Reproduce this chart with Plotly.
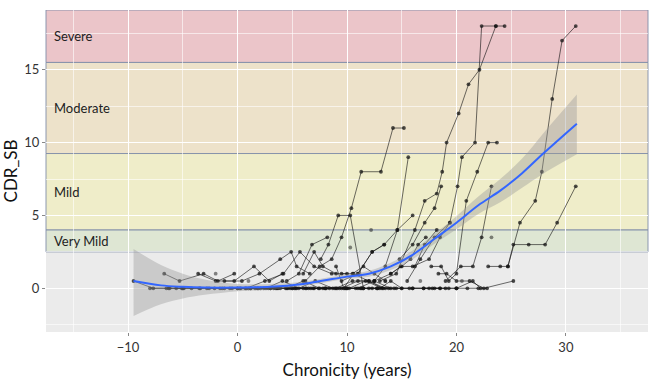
import plotly.graph_objects as go

# ---------------- data ----------------
traj_years = [
    [-9.5, -7.7, -6.2, -5.1],
    [-6.7, -5.3, -3.1, -1.8, -0.3],
    [-3.6, -2.0, -0.3, 1.5, 2.9, 4.1],
    [-6.3, -4.9, -3.5, -2.1, -0.7, 0.7, 2.1, 3.5],
    [-5.0, -3.4, -1.6, 0.0, 1.6, 3.0, 4.6, 6.0],
    [-1.2, 0.4, 2.0, 3.9, 4.9, 5.4, 6.6],
    [0.8, 2.5, 4.2, 5.7, 7.0, 8.6, 10.0],
    [1.8, 3.3, 4.8, 6.3, 7.8, 9.3, 10.8, 12.3],
    [-0.5, 1.0, 2.6, 4.1, 5.6, 7.1, 8.7, 10.2, 11.7, 13.2],
    [4.5, 5.6, 6.8, 8.2],
    [6.2, 7.5, 8.6, 9.5, 10.4, 11.3, 13.1, 14.2, 15.2],
    [7.6, 8.3, 9.2, 10.3, 11.5],
    [9.0, 9.7, 10.6, 12.0, 13.3],
    [12.5, 13.5, 14.6, 15.6],
    [3.0, 4.5, 6.0, 7.5, 9.0, 10.5, 12.0, 13.5, 15.0],
    [5.0, 6.5, 8.0, 9.5, 11.0, 12.5, 14.0],
    [9.5, 11.0, 12.3, 13.4, 14.6, 16.0],
    [11.0, 12.5, 14.0, 14.9, 16.2, 17.1, 18.2],
    [13.0, 14.5, 16.2, 17.1, 18.2, 18.7, 19.1, 20.2, 21.1, 22.1, 23.6, 24.4],
    [15.5, 16.7, 18.0, 19.4, 20.1, 20.5, 21.7, 22.3, 23.6],
    [17.7, 18.6, 19.3, 20.0, 20.9, 21.9, 22.9, 23.7],
    [19.0, 20.4, 21.5, 22.3, 23.2],
    [18.35, 19.1, 20.0, 21.2, 22.5, 25.2],
    [17.0, 18.5, 20.0, 21.5, 22.2, 22.8],
    [22.9, 24.0, 24.7, 25.8, 27.2, 27.8, 28.75, 29.65, 30.9],
    [24.7, 25.2, 26.6, 28.1, 29.2, 30.9],
    [16.0, 17.5, 18.5, 19.4],
    [14.0, 15.0, 15.8, 16.5, 17.2],
    [12.0, 13.0, 14.0, 15.0, 16.0, 17.5, 18.5],
    [9.5, 10.5, 11.5, 12.5, 13.5],
    [11.0, 12.3, 13.4],
    [14.8, 16.0, 17.1, 18.0, 18.6],
    [20.0, 21.0, 22.0],
    [6.0, 7.0, 7.8, 9.0],
    [-8.0, -6.5, -5.0],
    [-5.6, -4.2, -2.8, -1.2, 0.3, 1.2, 2.8, 4.4, 5.2],
    [-2.6, -1.4, 0.0, 1.2, 2.4, 3.7, 5.0, 6.2, 7.4, 8.9],
    [3.9, 5.3, 6.7, 8.0, 9.1, 10.0, 11.5, 12.8, 13.8],
    [7.0, 8.4, 9.8, 11.3, 12.7, 14.3, 15.7, 17.0, 18.0, 19.0],
    [10.0, 11.4, 12.8, 14.5, 16.0, 17.8, 19.3, 20.0],
    [0.2, 1.9, 3.6, 5.4, 6.9, 8.1, 9.9, 11.2],
]
traj_cdr = [
    [0.5, 0, 0, 0],
    [1.0, 0.5, 1.0, 0.5, 1.0],
    [1.0, 0.5, 0.5, 1.5, 0.5, 1.0],
    [0, 0, 0, 0, 0, 0, 0, 0],
    [0, 0, 0, 0, 0, 0, 0, 0],
    [0.5, 0.5, 1.0, 2.0, 2.5, 1.5, 1.0],
    [0, 0.5, 1.0, 2.5, 1.5, 1.0, 1.0],
    [0, 0, 0, 0, 0, 0, 0, 0],
    [0, 0, 0, 0.5, 0, 0.5, 0, 0, 0.5, 0],
    [0.5, 1.0, 3.0, 3.5],
    [0.5, 1.5, 2.0, 3.5, 5.5, 8.0, 8.0, 11.0, 11.0],
    [2.0, 3.0, 5.0, 5.0, 0.0],
    [1.5, 0.0, 1.0, 0.5, 0.0],
    [0.5, 1.5, 4.0, 9.0],
    [0, 0, 0.5, 0, 0, 0.5, 0.5, 0, 0],
    [0, 0, 0, 0, 0.5, 0.5, 0],
    [0.5, 1.0, 2.5, 3.0, 4.0, 5.0],
    [0, 0.5, 1.0, 1.5, 1.5, 3.0, 4.0],
    [0.5, 1.0, 4.0, 6.0, 6.5, 8.0, 10.0, 12.0, 14.0, 15.0, 18.0, 18.0],
    [0.5, 2.0, 3.5, 4.5, 7.0, 9.0, 10.0, 18.0, 18.0],
    [1.5, 1.5, 0.5, 1.0, 6.0, 8.0, 10.0, 10.0],
    [0.5, 1.5, 1.5, 3.5, 7.0],
    [1.0, 1.0, 0.5, 0.5, 0.0, 0.5],
    [0, 0, 0, 0.5, 0, 0],
    [1.5, 1.5, 1.5, 4.5, 6.0, 8.0, 13.0, 17.0, 18.0],
    [1.5, 3.0, 3.0, 3.0, 4.5, 7.0],
    [1.5, 2.0, 3.5, 4.5],
    [1.0, 1.5, 2.0, 3.0, 3.5],
    [0, 0, 0.5, 0, 0, 0, 0],
    [1.0, 1.0, 1.5, 1.0, 0.5],
    [1.0, 2.5, 3.0],
    [2.0, 3.0, 4.5, 5.5, 7.0],
    [0, 0, 0],
    [1.0, 2.5, 1.5, 1.0],
    [0, 0, 0],
    [0, 0, 0, 0, 0, 0, 0, 0, 0],
    [0, 0, 0, 0, 0, 0, 0, 0, 0, 0],
    [0, 0, 0, 0, 0, 0, 0, 0, 0],
    [0, 0, 0, 0, 0, 0, 0, 0, 0, 0],
    [0, 0, 0, 0, 0, 0, 0, 0],
    [0, 0, 0, 0, 0, 0, 0, 0],
]
single_years = [10.3, 12.2, 23.2, -2.0, 1.0, 13.5, 20.5, 16.7]
single_cdr = [2.8, 4.0, 3.5, 1.0, 0.5, 0.5, 0.5, 0.5]

smooth_years = [-9.5, -7, -5, -3, 0, 3, 6, 8, 10, 12, 14, 16, 18, 20, 22, 24, 26, 28, 31]
smooth_fit = [0.5, 0.2, 0.1, 0.05, 0.05, 0.1, 0.3, 0.55, 0.8, 1.0, 1.5, 2.3, 3.4, 4.5, 5.7, 6.7, 7.9, 9.3, 11.3]
smooth_upper = [2.7, 1.6, 1.0, 0.6, 0.3, 0.3, 0.45, 0.7, 0.95, 1.2, 1.75, 2.6, 3.75, 4.95, 6.3, 7.5, 8.9, 10.7, 13.3]
smooth_lower = [-1.9, -1.1, -0.7, -0.45, -0.2, -0.1, 0.15, 0.4, 0.65, 0.8, 1.25, 2.0, 3.05, 4.05, 5.1, 5.9, 6.9, 7.9, 9.2]

stage_names = ["Severe", "Moderate", "Mild", "Very Mild"]
stage_low = [15.5, 9.25, 4.0, 2.5]
stage_high = [19.1, 15.5, 9.25, 4.0]
stage_fill = ["rgba(235,190,195,0.85)", "rgba(237,224,196,0.85)",
              "rgba(240,237,195,0.85)", "rgba(220,229,207,0.85)"]

# ---------------- figure ----------------
fig = go.Figure()

line_col = "rgba(20,20,20,0.62)"
for xs, ys in zip(traj_years, traj_cdr):
    fig.add_trace(go.Scatter(x=xs, y=ys, mode="lines+markers",
                             line=dict(color=line_col, width=1),
                             marker=dict(color="rgba(20,20,20,0.75)", size=3.8),
                             showlegend=False, hoverinfo="skip"))
fig.add_trace(go.Scatter(x=single_years, y=single_cdr, mode="markers",
                         marker=dict(color="rgba(20,20,20,0.5)", size=3.8),
                         showlegend=False, hoverinfo="skip"))

fig.add_trace(go.Scatter(x=smooth_years, y=smooth_upper, mode="lines",
                         line=dict(width=0, shape="spline"),
                         showlegend=False, hoverinfo="skip"))
fig.add_trace(go.Scatter(x=smooth_years, y=smooth_lower, mode="lines",
                         line=dict(width=0, shape="spline"), fill="tonexty",
                         fillcolor="rgba(153,153,153,0.4)",
                         showlegend=False, hoverinfo="skip"))
fig.add_trace(go.Scatter(x=smooth_years, y=smooth_fit, mode="lines",
                         line=dict(color="#3366FF", width=2, shape="spline"),
                         showlegend=False, hoverinfo="skip"))

for name, lo, hi, fc in zip(stage_names, stage_low, stage_high, stage_fill):
    fig.add_shape(type="rect", xref="paper", yref="y", x0=0, x1=1, y0=lo, y1=hi,
                  fillcolor=fc, line=dict(color="rgba(130,142,170,0.9)", width=1),
                  layer="between")
    fig.add_annotation(x=0.01, xref="paper", y=(lo + hi) / 2, yref="y",
                       text=name, showarrow=False, xanchor="left",
                       font=dict(family="Lato", size=13, color="#222222"))

axis_common = dict(showgrid=True, gridcolor="white", gridwidth=1, zeroline=False,
                   ticks="outside", ticklen=3, tickcolor="#888888",
                   tickfont=dict(family="Lato", size=13, color="#333333"),
                   minor=dict(showgrid=True, gridcolor="rgba(255,255,255,0.6)", gridwidth=0.5))

fig.update_xaxes(range=[-17.5, 37.5], tick0=0, dtick=10, **axis_common,
                 title=dict(text="Chronicity (years)", standoff=10,
                            font=dict(family="Lato", size=17, color="#111111")))
fig.update_xaxes(minor_dtick=5)
fig.update_yaxes(range=[-3.0, 19.1], tick0=0, dtick=5, **axis_common,
                 title=dict(text="CDR_SB", standoff=8,
                            font=dict(family="Lato", size=17, color="#111111")))
fig.update_yaxes(minor_dtick=2.5)

fig.update_layout(width=652, height=387,
                  margin=dict(l=46, r=4, t=10, b=55),
                  paper_bgcolor="white", plot_bgcolor="#EBEBEB",
                  font=dict(family="Lato"))

fig.write_html("out.html")
